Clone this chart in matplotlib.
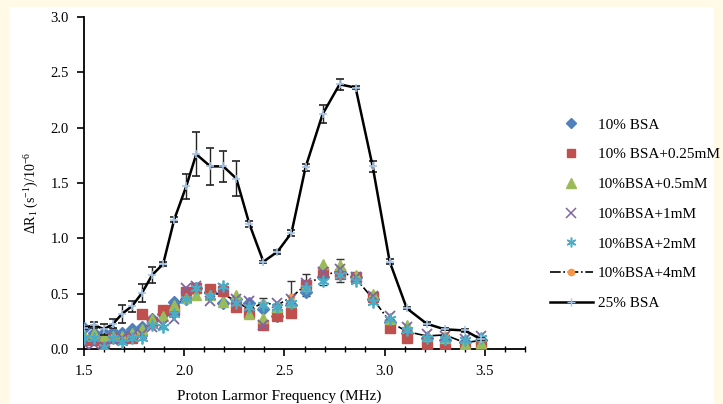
import numpy as np
import matplotlib
matplotlib.use('Agg')
import matplotlib.pyplot as plt
from matplotlib.ticker import MultipleLocator, FormatStrFormatter
from matplotlib.patches import Rectangle
from matplotlib.lines import Line2D

plt.rcParams['font.family'] = ['Liberation Serif', 'DejaVu Serif']
plt.rcParams['mathtext.fontset'] = 'custom'
plt.rcParams['mathtext.rm'] = 'Liberation Serif'
plt.rcParams['mathtext.it'] = 'Liberation Serif:italic'

# data
freq = [1.50, 1.55, 1.60, 1.645, 1.69, 1.74, 1.79, 1.84, 1.895, 1.95,
        2.01, 2.06, 2.13, 2.195, 2.26, 2.325, 2.395, 2.465, 2.535, 2.605,
        2.69, 2.775, 2.855, 2.94, 3.025, 3.11, 3.21, 3.30, 3.40, 3.48]

bsa25 = [0.19, 0.22, 0.18, 0.23, 0.32, 0.39, 0.51, 0.67, 0.77, 1.17,
         1.47, 1.76, 1.65, 1.65, 1.54, 1.13, 0.79, 0.88, 1.05, 1.64,
         2.12, 2.39, 2.36, 1.65, 0.79, 0.37, 0.23, 0.18, 0.17, 0.09]
err25 = [0.01, 0.03, 0.05, 0.04, 0.08, 0.05, 0.08, 0.07, 0.02, 0.02,
         0.11, 0.20, 0.17, 0.14, 0.16, 0.03, 0.01, 0.02, 0.03, 0.03,
         0.08, 0.05, 0.015, 0.05, 0.02, 0.01, 0.015, 0.01, 0.01, 0.01]

bsa10 = [0.19, 0.15, 0.15, 0.16, 0.15, 0.18, 0.20, 0.27, 0.32, 0.43,
         0.45, 0.55, 0.52, 0.42, 0.45, 0.42, 0.36, 0.30, 0.40, 0.52,
         0.65, 0.70, 0.65, 0.45, 0.25, 0.15, 0.10, 0.08, 0.07, 0.08]
mm025 = [0.08, 0.08, 0.07, 0.10, 0.09, 0.10, 0.32, 0.25, 0.35, 0.35,
         0.52, 0.55, 0.54, 0.53, 0.38, 0.33, 0.22, 0.30, 0.33, 0.58,
         0.70, 0.68, 0.65, 0.47, 0.19, 0.10, 0.05, 0.01, 0.00, 0.05]
mm05 = [0.13, 0.15, 0.12, 0.12, 0.12, 0.15, 0.18, 0.27, 0.30, 0.40,
        0.46, 0.49, 0.49, 0.43, 0.49, 0.32, 0.28, 0.38, 0.43, 0.57,
        0.77, 0.76, 0.67, 0.50, 0.27, 0.22, 0.12, 0.10, 0.05, 0.06]
mm1 = [0.05, 0.05, 0.03, 0.08, 0.10, 0.12, 0.14, 0.20, 0.22, 0.27,
       0.55, 0.57, 0.44, 0.55, 0.45, 0.44, 0.22, 0.42, 0.45, 0.60,
       0.70, 0.72, 0.65, 0.48, 0.30, 0.20, 0.14, 0.12, 0.09, 0.12]
mm2 = [0.10, 0.10, 0.02, 0.10, 0.07, 0.10, 0.10, 0.22, 0.20, 0.32,
       0.45, 0.55, 0.48, 0.57, 0.42, 0.38, 0.40, 0.38, 0.42, 0.55,
       0.62, 0.67, 0.62, 0.43, 0.27, 0.17, 0.10, 0.09, 0.08, 0.10]
mm4 = [0.08, 0.10, 0.09, 0.12, 0.10, 0.13, 0.15, 0.25, 0.30, 0.37,
       0.48, 0.52, 0.50, 0.50, 0.43, 0.36, 0.42, 0.40, 0.47, 0.58,
       0.66, 0.71, 0.64, 0.46, 0.25, 0.16, 0.12, 0.13, 0.06, 0.08]
err4 = [0, 0, 0, 0, 0, 0, 0, 0, 0, 0,
        0, 0, 0, 0, 0, 0, 0.04, 0, 0.15, 0.10,
        0.08, 0.10, 0, 0, 0, 0, 0, 0, 0, 0]

labels = ['10% BSA', '10% BSA+0.25mM', '10%BSA+0.5mM', '10%BSA+1mM',
          '10%BSA+2mM', '10%BSA+4mM', '25% BSA']
colors = ['#4f81bd', '#c0504d', '#9bbb59', '#8064a2', '#4bacc6', '#f79646']

fig = plt.figure(figsize=(7.23, 4.04), dpi=100, facecolor='#fff9e6')
# white panel inside the cream border
fig.patches.append(Rectangle((9/723, 0), 705/723, 397/404, transform=fig.transFigure,
                             facecolor='white', edgecolor='none', zorder=-1))
ax = fig.add_axes([84/723, 54.7/404, 441/723, 332.6/404])
ax.set_facecolor('white')

# 4mM drawn first so the other markers sit on top, as in the original
ax.errorbar(freq, mm4, yerr=err4, fmt='o', color='black', ls='-.', lw=1.2,
            mfc=colors[5], mec=colors[5], ms=4.5, ecolor='#333333', elinewidth=1,
            capsize=3, zorder=2)
ax.plot(freq, bsa10, 'D', color=colors[0], ms=6.5, ls='none', zorder=3)
ax.plot(freq, mm025, 's', color=colors[1], ms=6.5, ls='none', zorder=3)
ax.plot(freq, mm05, '^', color=colors[2], ms=7.5, ls='none', zorder=3)
ax.plot(freq, mm1, 'x', color=colors[3], ms=7.5, mew=1.3, ls='none', zorder=3)
ax.plot(freq, mm2, marker=(6, 2, 0), color=colors[4], ms=8.5, mew=1.3, ls='none', zorder=3)
ax.errorbar(freq, bsa25, yerr=err25, color='black', lw=1.8, marker='+',
            mec='#a6c4e6', ms=6, mew=1.2, ecolor='#222222', elinewidth=1,
            capsize=3, zorder=4)

ax.set_xlim(1.5, 3.7)
ax.set_ylim(0, 3.0)
ax.xaxis.set_major_locator(MultipleLocator(0.5))
ax.xaxis.set_minor_locator(MultipleLocator(0.1))
ax.yaxis.set_major_locator(MultipleLocator(0.5))
ax.xaxis.set_major_formatter(FormatStrFormatter('%.1f'))
ax.yaxis.set_major_formatter(FormatStrFormatter('%.1f'))
ax.tick_params(axis='both', which='major', direction='out', length=5, width=1.2,
               labelsize=10.5, pad=6)
ax.tick_params(axis='x', which='minor', direction='inout', length=5, width=1)
for s in ['top', 'right']:
    ax.spines[s].set_visible(False)
for s in ['left', 'bottom']:
    ax.spines[s].set_linewidth(1.3)

ax.set_xlabel('Proton Larmor Frequency (MHz)', fontsize=11)
ax.xaxis.set_label_coords(0.442, -0.14)
ax.xaxis.label.set_va('center')
ax.set_ylabel(r'$\Delta\mathrm{R}_1\ (\mathrm{s}^{-1})/10^{-6}$', fontsize=10)
ax.yaxis.set_label_coords(-0.118, 0.47)
ax.yaxis.label.set_va('center')

handles = [
    Line2D([], [], ls='none', marker='D', color=colors[0], ms=5.5),
    Line2D([], [], ls='none', marker='s', color=colors[1], ms=5.5),
    Line2D([], [], ls='none', marker='^', color=colors[2], ms=6.5),
    Line2D([], [], ls='none', marker='x', color=colors[3], ms=6.5, mew=1.1),
    Line2D([], [], ls='none', marker=(6, 2, 0), color=colors[4], ms=7, mew=1.1),
    Line2D([], [], ls='-.', color='black', lw=1.2, marker='o',
           mfc=colors[5], mec=colors[5], ms=4.5),
    Line2D([], [], ls='-', color='black', lw=1.8, marker='+', mec='#a6c4e6', ms=6),
]
leg = ax.legend(handles, labels, loc='upper left',
                bbox_to_anchor=(550/723, 1 - 118/404),
                bbox_transform=fig.transFigure, frameon=False, fontsize=11,
                borderpad=0, borderaxespad=0, labelspacing=1.05,
                handlelength=2.8, handletextpad=0.35, numpoints=1)

fig.savefig('out.png', dpi=100, facecolor=fig.get_facecolor())
